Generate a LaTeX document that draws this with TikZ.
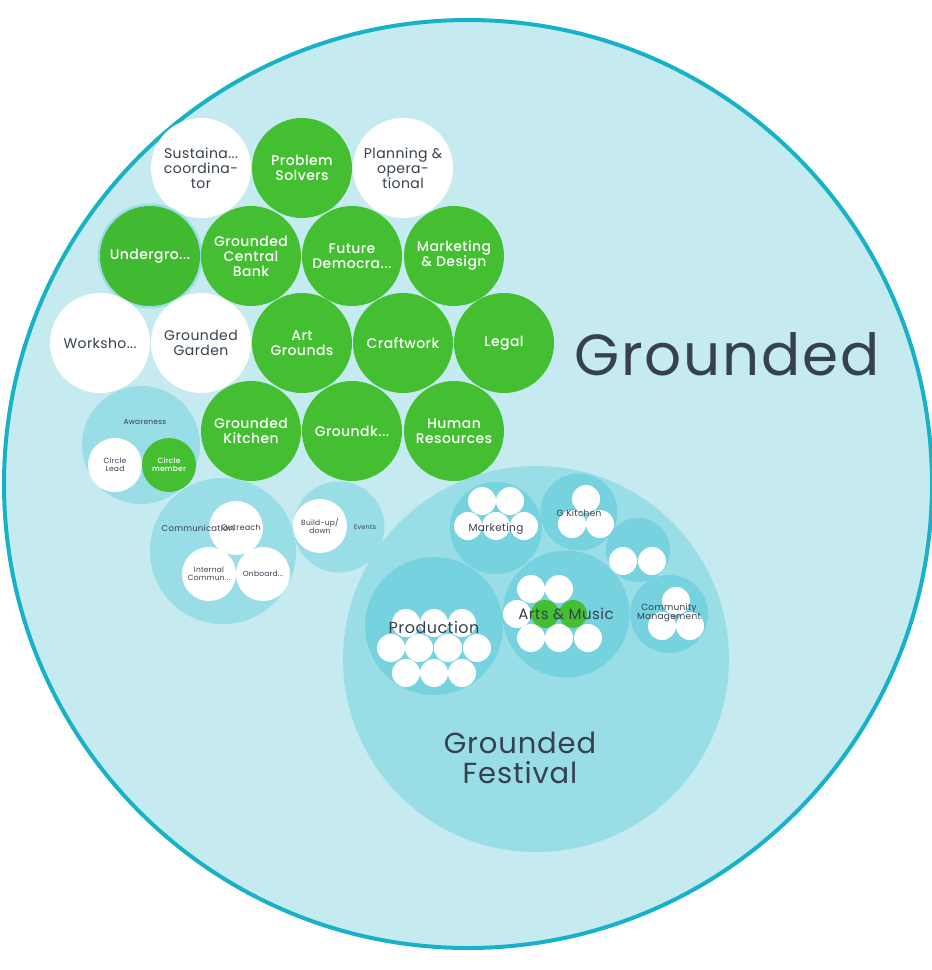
\documentclass[tikz,border=0pt]{standalone}
\usepackage{fontspec}
\setmainfont{Poppins}[LetterSpace=3]
\newfontfamily\pmed{Poppins Medium}[LetterSpace=3]
\definecolor{bg}{HTML}{C5EBF0}
\definecolor{rim}{HTML}{18B2C8}
\definecolor{fest}{HTML}{99DDE6}
\definecolor{sub}{HTML}{77D2DF}
\definecolor{grn}{HTML}{43BF31}
\definecolor{ink}{HTML}{36404F}
\begin{document}
\begin{tikzpicture}[x=1pt,y=-1pt,
  big/.style={circle, minimum size=100pt, inner sep=0pt, align=center, font=\fontsize{14}{15}\selectfont},
  gbig/.style={big, fill=grn, text=white, font=\pmed\fontsize{14}{15}\selectfont},
  wbig/.style={big, fill=white, text=ink},
  mid/.style={circle, minimum size=54pt, inner sep=0pt, align=center, font=\fontsize{7.5}{8}\selectfont},
  gmid/.style={mid, fill=grn, text=white, font=\pmed\fontsize{7.5}{8}\selectfont},
  wmid/.style={mid, fill=white, text=ink},
  dot/.style={circle, fill=white, minimum size=28pt, inner sep=0pt},
  gdot/.style={circle, fill=grn, minimum size=28pt, inner sep=0pt},
  grp/.style={circle, fill=fest, inner sep=0pt},
  sgrp/.style={circle, fill=sub, inner sep=0pt},
  lbl/.style={text=ink, align=center, inner sep=0pt}
]
\useasboundingbox (0,0) rectangle (932,970);
\fill[white] (0,0) rectangle (932,970);
% main circle
\node[circle, fill=bg, draw=rim, line width=4pt, minimum size=928pt, inner sep=0pt] (main) at (468,484) {};
\node[lbl, font=\fontsize{58}{60}\selectfont] (title) at (727,354) {Grounded};

% top cluster
\node[wbig] (sus) at (201,168) {Sustaina...\\coordina-\\tor};
\node[gbig] (prob) at (302,168) {Problem\\Solvers};
\node[wbig] (plan) at (403,168) {Planning \&\\opera-\\tional};
\node[circle, fill=fest, minimum size=105pt, inner sep=0pt] (halo) at (150,256) {};
\node[gbig, fill=grn!97!black] (under) at (150,256) {Undergro...};
\node[gbig] (bank) at (251,256) {Grounded\\Central\\Bank};
\node[gbig] (fut) at (352,256) {Future\\Democra...};
\node[gbig] (mkd) at (454,256) {Marketing\\\& Design};
\node[wbig] (work) at (100,343) {Worksho...};
\node[wbig] (garden) at (201,343) {Grounded\\Garden};
\node[gbig] (art) at (302,343) {Art\\Grounds};
\node[gbig] (craft) at (403,343) {Craftwork};
\node[gbig] (legal) at (504,343) {Legal};
\node[gbig] (kitchen) at (251,431) {Grounded\\Kitchen};
\node[gbig] (gk) at (352,431) {Groundk...};
\node[gbig] (hr) at (454,431) {Human\\Resources};

% awareness
\node[grp, minimum size=118pt] (aware) at (141,445) {};
\node[lbl, font=\fontsize{7.5}{8}\selectfont] (awarel) at (145,422) {Awareness};
\node[wmid] (lead) at (115,465) {Circle\\Lead};
\node[gmid] (member) at (169,465) {Circle\\member};

% communication
\node[grp, minimum size=146pt] (comm) at (223,551) {};
\node[wmid] (out) at (236,528) {};
\node[wmid] (intc) at (209,574) {Internal\\Commun...};
\node[wmid] (onb) at (263,574) {Onboard...};
\node[lbl, font=\fontsize{8.5}{9}\selectfont] (comml) at (198,528) {Communication};
\node[lbl, font=\fontsize{8}{9}\selectfont] (outl) at (241,528) {Outreach};

% events
\node[grp, minimum size=91pt] (events) at (339,527) {};
\node[wmid] (build) at (320,526) {Build-up/\\down};
\node[lbl, font=\fontsize{6.5}{7}\selectfont] (eventsl) at (365,527) {Events};

% festival
\node[grp, minimum size=386pt] (fest) at (536,659) {};
\node[lbl, font=\fontsize{29}{30}\selectfont] (festl) at (520,758) {Grounded\\Festival};

% marketing
\node[sgrp, minimum size=92pt] (mkt) at (496,528) {};
\node[dot] (m1) at (482,501) {};
\node[dot] (m2) at (510,501) {};
\node[dot] (m3) at (468,526) {};
\node[dot] (m4) at (496,526) {};
\node[dot] (m5) at (524,526) {};
\node[lbl, font=\fontsize{10.5}{11}\selectfont] (mktl) at (496,529) {Marketing};

% G Kitchen
\node[sgrp, minimum size=77pt] (gkit) at (579,512) {};
\node[dot] (k1) at (586,499) {};
\node[dot] (k2) at (572,524) {};
\node[dot] (k3) at (600,524) {};
\node[lbl, font=\fontsize{9}{9}\selectfont] (gkitl) at (579,513) {G Kitchen};

% unlabeled
\node[sgrp, minimum size=64pt] (unl) at (638,550) {};
\node[dot] (u1) at (623,561) {};
\node[dot] (u2) at (652,561) {};

% arts & music
\node[sgrp, minimum size=127pt] (arts) at (566,614) {};
\node[dot] (a1) at (531,589) {};
\node[dot] (a2) at (559,589) {};
\node[dot] (a3) at (517,614) {};
\node[gdot] (a4) at (545,614) {};
\node[gdot] (a5) at (573,614) {};
\node[dot] (a6) at (531,638) {};
\node[dot] (a7) at (559,638) {};
\node[dot] (a8) at (588,638) {};
\node[lbl, font=\fontsize{15}{15}\selectfont] (artsl) at (566,614) {Arts \& Music};

% community management
\node[sgrp, minimum size=78pt] (cm) at (669,614) {};
\node[dot] (c1) at (676,601) {};
\node[dot] (c2) at (662,626) {};
\node[dot] (c3) at (690,626) {};
\node[lbl, font=\fontsize{9}{9}\selectfont] (cml) at (669,613) {Community\\Management};

% production
\node[sgrp, minimum size=138pt] (prod) at (434,626) {};
\node[dot] (p1) at (406,623) {};
\node[dot] (p2) at (434,623) {};
\node[dot] (p3) at (462,623) {};
\node[dot] (p4) at (391,648) {};
\node[dot] (p5) at (419,648) {};
\node[dot] (p6) at (448,648) {};
\node[dot] (p7) at (477,648) {};
\node[dot] (p8) at (406,673) {};
\node[dot] (p9) at (434,673) {};
\node[dot] (p10) at (462,673) {};
\node[lbl, font=\fontsize{16}{16}\selectfont] (prodl) at (434,627) {Production};
\end{tikzpicture}
\end{document}
